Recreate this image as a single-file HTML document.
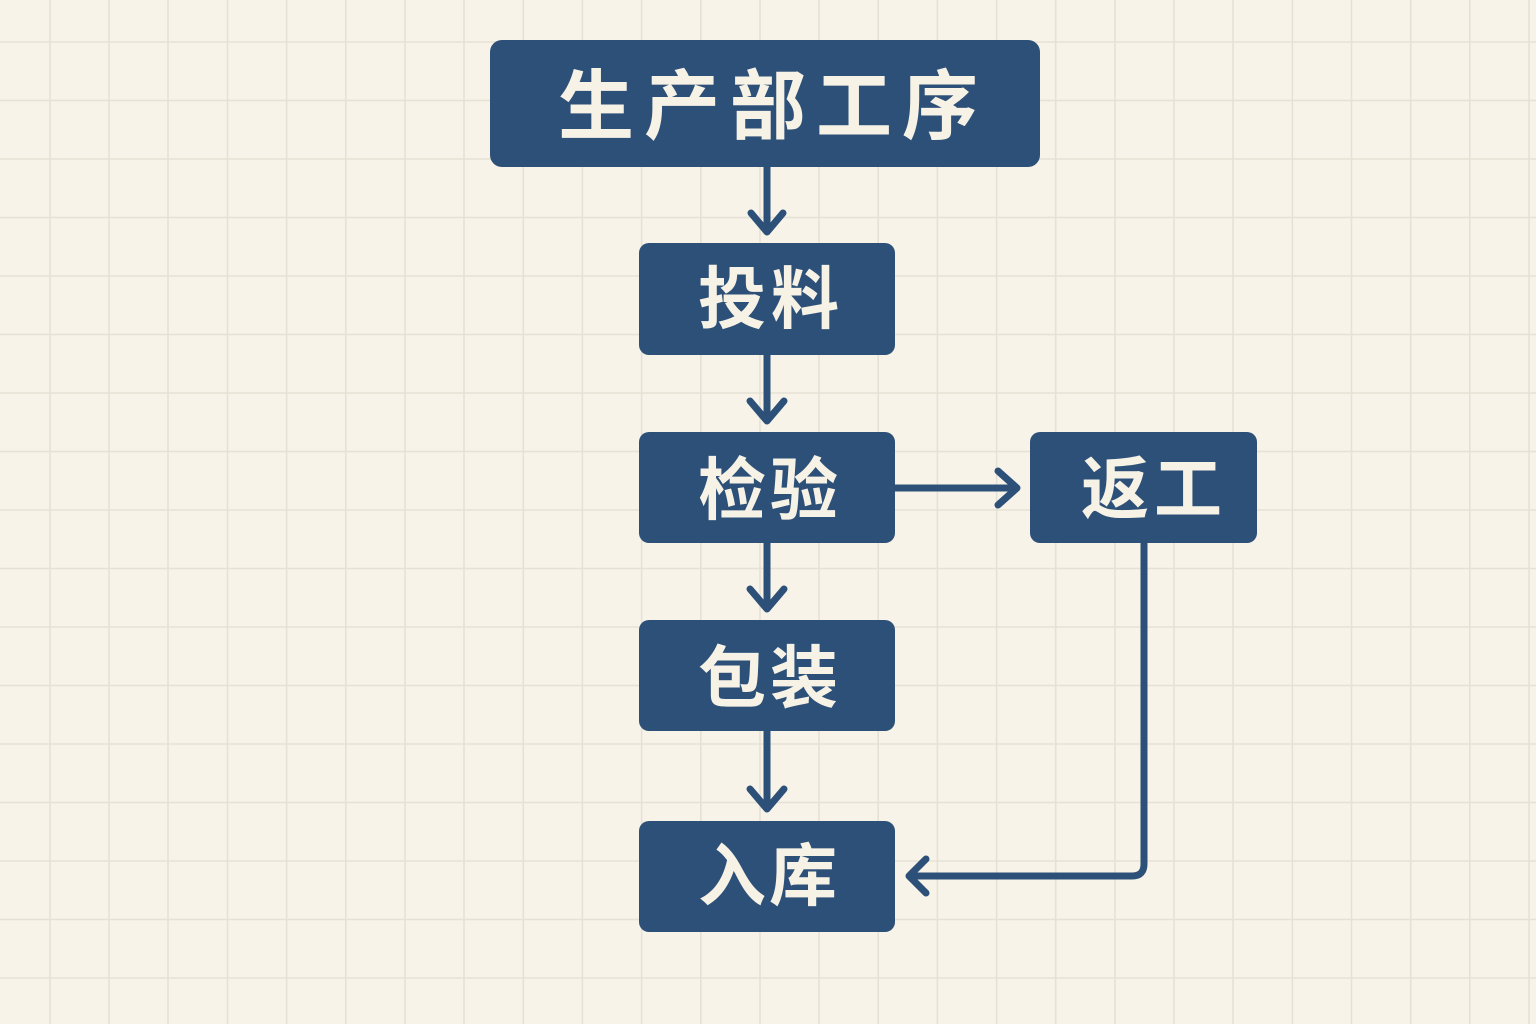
<!DOCTYPE html>
<html>
<head>
<meta charset="utf-8">
<style>
  html, body { margin:0; padding:0; }
  body { width:1536px; height:1024px; overflow:hidden; background:#f7f3e9; }
  svg { display:block; }
  .t { font-family: "Liberation Sans", "Noto Sans CJK SC", "WenQuanYi Zen Hei", sans-serif; font-weight:700; fill:#f7f2e6; text-anchor:middle; }
</style>
</head>
<body>
<svg width="1536" height="1024" viewBox="0 0 1536 1024" xmlns="http://www.w3.org/2000/svg">
  <rect x="0" y="0" width="1536" height="1024" fill="#f7f3e9"/>
  <g stroke="#e6e1d5" stroke-width="1.6">
    <line x1="50" y1="0" x2="50" y2="1024"/>
    <line x1="109" y1="0" x2="109" y2="1024"/>
    <line x1="168" y1="0" x2="168" y2="1024"/>
    <line x1="227.5" y1="0" x2="227.5" y2="1024"/>
    <line x1="286.6" y1="0" x2="286.6" y2="1024"/>
    <line x1="345.8" y1="0" x2="345.8" y2="1024"/>
    <line x1="405" y1="0" x2="405" y2="1024"/>
    <line x1="464" y1="0" x2="464" y2="1024"/>
    <line x1="523.3" y1="0" x2="523.3" y2="1024"/>
    <line x1="582.4" y1="0" x2="582.4" y2="1024"/>
    <line x1="641.6" y1="0" x2="641.6" y2="1024"/>
    <line x1="700.8" y1="0" x2="700.8" y2="1024"/>
    <line x1="760" y1="0" x2="760" y2="1024"/>
    <line x1="819" y1="0" x2="819" y2="1024"/>
    <line x1="878.2" y1="0" x2="878.2" y2="1024"/>
    <line x1="937.4" y1="0" x2="937.4" y2="1024"/>
    <line x1="996.6" y1="0" x2="996.6" y2="1024"/>
    <line x1="1055.7" y1="0" x2="1055.7" y2="1024"/>
    <line x1="1114.9" y1="0" x2="1114.9" y2="1024"/>
    <line x1="1174" y1="0" x2="1174" y2="1024"/>
    <line x1="1233" y1="0" x2="1233" y2="1024"/>
    <line x1="1292.4" y1="0" x2="1292.4" y2="1024"/>
    <line x1="1351.5" y1="0" x2="1351.5" y2="1024"/>
    <line x1="1410.7" y1="0" x2="1410.7" y2="1024"/>
    <line x1="1469.8" y1="0" x2="1469.8" y2="1024"/>
    <line x1="1529" y1="0" x2="1529" y2="1024"/>
    <line x1="0" y1="42" x2="1536" y2="42"/>
    <line x1="0" y1="100.5" x2="1536" y2="100.5"/>
    <line x1="0" y1="159" x2="1536" y2="159"/>
    <line x1="0" y1="217.5" x2="1536" y2="217.5"/>
    <line x1="0" y1="276" x2="1536" y2="276"/>
    <line x1="0" y1="334.5" x2="1536" y2="334.5"/>
    <line x1="0" y1="393" x2="1536" y2="393"/>
    <line x1="0" y1="451.5" x2="1536" y2="451.5"/>
    <line x1="0" y1="510" x2="1536" y2="510"/>
    <line x1="0" y1="568.5" x2="1536" y2="568.5"/>
    <line x1="0" y1="627" x2="1536" y2="627"/>
    <line x1="0" y1="685.5" x2="1536" y2="685.5"/>
    <line x1="0" y1="744" x2="1536" y2="744"/>
    <line x1="0" y1="802.5" x2="1536" y2="802.5"/>
    <line x1="0" y1="861" x2="1536" y2="861"/>
    <line x1="0" y1="919.5" x2="1536" y2="919.5"/>
    <line x1="0" y1="978" x2="1536" y2="978"/>
  </g>

  <g stroke="#2d5078" stroke-width="7" fill="none" stroke-linecap="round" stroke-linejoin="round">
    <line x1="767" y1="167" x2="767" y2="231"/>
    <polyline points="751,213 767,232 783,213"/>
    <line x1="767" y1="355" x2="767" y2="420"/>
    <polyline points="750,401 767,421 784,401"/>
    <line x1="767" y1="543" x2="767" y2="608"/>
    <polyline points="750,589 767,609 784,589"/>
    <line x1="767" y1="731" x2="767" y2="808"/>
    <polyline points="750,789 767,809 784,789"/>
    <line x1="895" y1="488" x2="1016" y2="488"/>
    <polyline points="998,471 1017,488 998,505"/>
    <path d="M1144 542 V864 Q1144 876 1132 876 H910"/>
    <polyline points="926,859 909,876 926,893"/>
  </g>

  <g fill="#2d5078">
    <rect x="490" y="40" width="550" height="127" rx="12"/>
    <rect x="639" y="243" width="256" height="112" rx="10"/>
    <rect x="639" y="432" width="256" height="111" rx="10"/>
    <rect x="1030" y="432" width="227" height="111" rx="10"/>
    <rect x="639" y="620" width="256" height="111" rx="10"/>
    <rect x="639" y="821" width="256" height="111" rx="10"/>
  </g>

  <g class="t" font-size="76">
    <text x="596" y="133">生</text>
    <text x="682" y="133">产</text>
    <text x="768" y="133">部</text>
    <text x="854" y="133">工</text>
    <text x="940" y="133">序</text>
  </g>
  <g class="t" font-size="68">
    <text x="732" y="323">投</text>
    <text x="805" y="323">料</text>
    <text x="732" y="514">检</text>
    <text x="804" y="514">验</text>
    <text x="1115" y="513">返</text>
    <text x="1188" y="513">工</text>
    <text x="732" y="702">包</text>
    <text x="804" y="702">装</text>
    <text x="732" y="900">入</text>
    <text x="803" y="900">库</text>
  </g>
</svg>
</body>
</html>
